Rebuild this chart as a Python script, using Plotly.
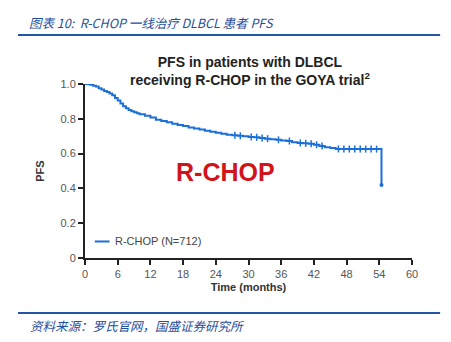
import plotly.graph_objects as go

# Kaplan-Meier step curve, R-CHOP arm (months, PFS)
months = [0, 0.5, 1, 1.5, 2, 2.5, 3, 3.5, 4, 4.5, 5, 5.5, 6, 6.5, 7, 7.5, 8, 8.5,
          9, 9.5, 10, 11, 12, 13, 14, 15, 16, 17, 18, 19, 20, 21, 22, 23, 24, 25,
          26, 27, 28, 29, 30, 31, 32, 33, 34, 35, 36, 37, 38, 39, 40, 41, 42, 43,
          44, 45, 46, 47, 48, 50, 52, 54.4]
pfs = [1.0, 0.998, 0.995, 0.99, 0.985, 0.975, 0.968, 0.96, 0.954, 0.945, 0.935,
       0.92, 0.905, 0.888, 0.872, 0.86, 0.85, 0.843, 0.837, 0.832, 0.826, 0.818,
       0.808, 0.795, 0.787, 0.78, 0.772, 0.765, 0.758, 0.75, 0.744, 0.738, 0.732,
       0.726, 0.72, 0.714, 0.708, 0.705, 0.702, 0.699, 0.696, 0.694, 0.69, 0.686,
       0.682, 0.679, 0.676, 0.672, 0.665, 0.661, 0.659, 0.656, 0.651, 0.644,
       0.637, 0.632, 0.627, 0.626, 0.626, 0.626, 0.626, 0.42]

# Censoring ticks
censor_months = [27.5, 28.5, 30.5, 31.5, 32.5, 33.5, 35.5, 37.5, 39.5, 40.5, 41.5,
                 42.5, 43.5, 46.5, 47.5, 48.5, 49.5, 50.5, 51.5, 52.5, 53.5]
censor_pfs = [0.705, 0.702, 0.696, 0.694, 0.69, 0.686, 0.679, 0.672, 0.661, 0.659,
              0.656, 0.651, 0.644, 0.627, 0.626, 0.626, 0.626, 0.626, 0.626, 0.626,
              0.626]

x_ticks = [0, 6, 12, 18, 24, 30, 36, 42, 48, 54, 60]
y_ticks = [0, 0.2, 0.4, 0.6, 0.8, 1.0]
y_ticktext = ["0", "0.2", "0.4", "0.6", "0.8", "1.0"]

blue = "#1a6fd8"
font_latin = "Arial, Liberation Sans"

fig = go.Figure()
fig.add_trace(go.Scatter(
    x=months, y=pfs, mode="lines", line=dict(color=blue, width=2, shape="hv"),
    showlegend=False))
fig.add_trace(go.Scatter(
    x=censor_months, y=censor_pfs, mode="markers",
    marker=dict(symbol="line-ns", size=5, line=dict(color=blue, width=1.5)),
    showlegend=False))
fig.add_trace(go.Scatter(
    x=[months[-1]], y=[pfs[-1]], mode="markers",
    marker=dict(symbol="circle", size=4, color=blue), showlegend=False))

# Legend sample
fig.add_shape(type="line", xref="paper", yref="paper", x0=0.03, x1=0.075,
              y0=0.095, y1=0.095, line=dict(color=blue, width=2))
fig.add_annotation(xref="paper", yref="paper", x=0.085, y=0.095, xanchor="left",
                   yanchor="middle", text="R-CHOP (N=712)", showarrow=False,
                   font=dict(family=font_latin, size=11, color="#444"))

fig.add_annotation(xref="paper", yref="paper", x=0.43, y=0.494, text="<b>R-CHOP</b>",
                   showarrow=False,
                   font=dict(family=font_latin, size=25, color="#d0141c"))

fig.update_xaxes(range=[0, 60], tickvals=x_ticks, showline=True, linecolor="#222",
                 linewidth=2, ticks="outside", ticklen=5, tickwidth=2, tickcolor="#222",
                 showgrid=False, zeroline=False,
                 tickfont=dict(family=font_latin, size=11, color="#555"),
                 title=dict(text="<b>Time (months)</b>", standoff=4,
                            font=dict(family=font_latin, size=11, color="#333")))
fig.update_yaxes(range=[0, 1.0], tickvals=y_ticks, ticktext=y_ticktext, showline=True,
                 linecolor="#222", linewidth=2, ticks="outside", ticklen=5, tickwidth=2,
                 tickcolor="#222", showgrid=False, zeroline=False,
                 tickfont=dict(family=font_latin, size=11, color="#555"),
                 title=dict(text="<b>PFS</b>", standoff=14,
                            font=dict(family=font_latin, size=11, color="#333")))

# Page header and footer
fig.add_annotation(xref="paper", yref="paper", x=-0.178, y=1.356, xanchor="left",
                   yanchor="middle", showarrow=False,
                   text="<i>图表 10:  R-CHOP 一线治疗 DLBCL 患者 PFS</i>",
                   font=dict(family="Noto Sans CJK SC", size=12.5, color="#1f4e9c"))
fig.add_shape(type="line", xref="paper", yref="paper", x0=-0.205, x1=1.086,
              y0=1.282, y1=1.282, line=dict(color="#2456a6", width=2))
fig.add_annotation(xref="paper", yref="paper", x=0.505, y=1.075, yanchor="middle",
                   showarrow=False,
                   text="<b>PFS in patients with DLBCL<br>receiving R-CHOP in the GOYA trial<sup>2</sup></b>",
                   font=dict(family=font_latin, size=14, color="#222"))
fig.add_shape(type="line", xref="paper", yref="paper", x0=-0.205, x1=1.086,
              y0=-0.316, y1=-0.316, line=dict(color="#2456a6", width=2))
fig.add_annotation(xref="paper", yref="paper", x=-0.175, y=-0.388, xanchor="left",
                   yanchor="middle", showarrow=False,
                   text="<i>资料来源：罗氏官网，国盛证券研究所</i>",
                   font=dict(family="Noto Sans CJK SC", size=12.5, color="#1f4e9c"))

fig.update_layout(width=451, height=342, margin=dict(l=85, r=39, t=84, b=84),
                  plot_bgcolor="white", paper_bgcolor="white")
fig.write_html("out.html")
